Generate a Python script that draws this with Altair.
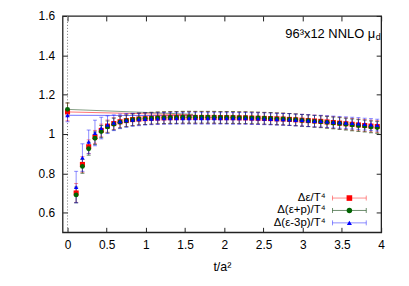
import altair as alt
import pandas as pd

# ---------------- data ----------------
t_vals = [0.11, 0.19, 0.27, 0.35, 0.43, 0.51, 0.59, 0.67, 0.75, 0.83, 0.91, 0.99,
          1.07, 1.15, 1.23, 1.31, 1.39, 1.47, 1.55, 1.63, 1.71, 1.79, 1.87, 1.95,
          2.03, 2.11, 2.19, 2.27, 2.35, 2.43, 2.51, 2.59, 2.67, 2.75, 2.83, 2.91,
          2.99, 3.07, 3.15, 3.23, 3.31, 3.39, 3.47, 3.55, 3.63, 3.71, 3.79, 3.87, 3.95]

red_vals = [0.700, 0.845, 0.935, 0.985, 1.018, 1.040, 1.053, 1.062, 1.068, 1.073, 1.076, 1.078,
            1.080, 1.081, 1.082, 1.083, 1.083, 1.084, 1.084, 1.084, 1.084, 1.084, 1.084, 1.083,
            1.083, 1.083, 1.082, 1.082, 1.081, 1.080, 1.079, 1.078, 1.077, 1.076, 1.074, 1.072,
            1.070, 1.068, 1.066, 1.064, 1.061, 1.058, 1.055, 1.052, 1.049, 1.046, 1.043, 1.040, 1.038]
red_errs = [0.048, 0.040, 0.035, 0.033, 0.032, 0.031, 0.030, 0.030, 0.030, 0.030, 0.030, 0.030,
            0.030, 0.030, 0.030, 0.030, 0.030, 0.030, 0.030, 0.030, 0.030, 0.030, 0.030, 0.030,
            0.030, 0.030, 0.030, 0.030, 0.030, 0.030, 0.030, 0.030, 0.030, 0.030, 0.030, 0.030,
            0.030, 0.030, 0.030, 0.030, 0.030, 0.030, 0.030, 0.030, 0.030, 0.030, 0.030, 0.030, 0.030]

green_vals = [0.690, 0.835, 0.925, 0.978, 1.012, 1.036, 1.050, 1.060, 1.067, 1.072, 1.076, 1.078,
              1.080, 1.082, 1.083, 1.084, 1.084, 1.085, 1.085, 1.085, 1.085, 1.085, 1.085, 1.084,
              1.084, 1.084, 1.083, 1.083, 1.082, 1.081, 1.080, 1.079, 1.077, 1.076, 1.074, 1.072,
              1.069, 1.067, 1.064, 1.062, 1.059, 1.056, 1.053, 1.050, 1.046, 1.043, 1.040, 1.036, 1.033]
green_errs = [0.040, 0.035, 0.033, 0.032, 0.031, 0.030, 0.030, 0.030, 0.030, 0.030, 0.030, 0.030,
              0.030, 0.030, 0.030, 0.030, 0.030, 0.030, 0.030, 0.030, 0.030, 0.030, 0.030, 0.030,
              0.030, 0.030, 0.030, 0.030, 0.030, 0.030, 0.030, 0.030, 0.030, 0.030, 0.030, 0.030,
              0.030, 0.030, 0.030, 0.030, 0.030, 0.030, 0.030, 0.030, 0.030, 0.030, 0.030, 0.030, 0.030]

blue_vals = [0.730, 0.880, 0.960, 1.005, 1.030, 1.047, 1.057, 1.064, 1.069, 1.072, 1.074, 1.076,
             1.077, 1.078, 1.079, 1.079, 1.080, 1.080, 1.080, 1.080, 1.080, 1.080, 1.080, 1.080,
             1.080, 1.079, 1.079, 1.079, 1.078, 1.078, 1.077, 1.076, 1.075, 1.074, 1.073, 1.071,
             1.070, 1.068, 1.066, 1.065, 1.063, 1.061, 1.059, 1.057, 1.055, 1.053, 1.050, 1.048, 1.045]
blue_errs = [0.080, 0.070, 0.060, 0.065, 0.055, 0.045, 0.040, 0.037, 0.035, 0.033, 0.032, 0.031,
             0.030, 0.030, 0.030, 0.030, 0.030, 0.030, 0.030, 0.030, 0.030, 0.030, 0.030, 0.030,
             0.030, 0.030, 0.030, 0.030, 0.030, 0.030, 0.030, 0.030, 0.030, 0.030, 0.030, 0.030,
             0.030, 0.030, 0.030, 0.030, 0.030, 0.030, 0.030, 0.030, 0.030, 0.030, 0.030, 0.030, 0.030]

# extrapolated t=0 values
t_zero = [0.0]
red_zero, red_zero_err = [1.112], [0.045]
green_zero, green_zero_err = [1.125], [0.033]
blue_zero, blue_zero_err = [1.095], [0.033]

# fit lines (from t=0 until they merge with the data)
fit_t = [0.0, 1.6]
red_fit = [1.112, 1.097]
green_fit = [1.125, 1.100]
blue_fit = [1.095, 1.093]

labels = ["Δε/T⁴", "Δ(ε+p)/T⁴", "Δ(ε-3p)/T⁴"]
x_ticks = [0, 0.5, 1, 1.5, 2, 2.5, 3, 3.5, 4]
y_ticks = [0.6, 0.8, 1.0, 1.2, 1.4, 1.6]

# ---------------- styling ----------------
W, H = 321, 218
FONT = "Liberation Sans"
xs = alt.Scale(domain=[-0.063, 4.0], nice=False, zero=False)
ys = alt.Scale(domain=[0.5, 1.6], nice=False, zero=False)

series = [
    dict(name=labels[0], t=t_zero + t_vals, v=red_zero + red_vals, e=red_zero_err + red_errs,
         fit=red_fit, color="#ff0000", bar="#ff0000", bar_op=0.45, shape="square", size=26),
    dict(name=labels[1], t=t_zero + t_vals, v=green_zero + green_vals, e=green_zero_err + green_errs,
         fit=green_fit, color="#006400", bar="#1e4f1e", bar_op=0.65, shape="circle", size=24),
    dict(name=labels[2], t=t_zero + t_vals, v=blue_zero + blue_vals, e=blue_zero_err + blue_errs,
         fit=blue_fit, color="#0000ff", bar="#0000ff", bar_op=0.45, shape="triangle-up", size=20),
]


def X(field):
    return alt.X(field, type="quantitative", scale=xs, axis=None)


def Y(field):
    return alt.Y(field, type="quantitative", scale=ys, axis=None)


layers = []

# dotted vertical line at t=0
zero_df = pd.DataFrame({"t": [0.0]})
layers.append(alt.Chart(zero_df).mark_rule(color="#777777", strokeDash=[1, 2], strokeWidth=1)
              .encode(x=X("t")))

# fit lines
for s in series:
    fdf = pd.DataFrame({"t": fit_t, "v": s["fit"]})
    layers.append(alt.Chart(fdf).mark_line(color=s["bar"], opacity=0.55, strokeWidth=1)
                  .encode(x=X("t"), y=Y("v")))

# error bars
for s in series:
    df = pd.DataFrame({"t": s["t"], "v": s["v"], "e": s["e"]})
    df["lo"] = df["v"] - df["e"]
    df["hi"] = df["v"] + df["e"]
    base = alt.Chart(df)
    layers.append(base.mark_rule(color=s["bar"], opacity=s["bar_op"], strokeWidth=1)
                  .encode(x=X("t"), y=Y("lo"), y2="hi"))
    layers.append(base.mark_tick(color=s["bar"], opacity=s["bar_op"], orient="horizontal",
                                 size=4, thickness=1)
                  .encode(x=X("t"), y=Y("lo")))
    layers.append(base.mark_tick(color=s["bar"], opacity=s["bar_op"], orient="horizontal",
                                 size=4, thickness=1)
                  .encode(x=X("t"), y=Y("hi")))

# points
for s in series:
    df = pd.DataFrame({"t": s["t"], "v": s["v"]})
    layers.append(alt.Chart(df).mark_point(filled=True, opacity=1, shape=s["shape"],
                                           size=s["size"], color=s["color"], strokeWidth=0)
                  .encode(x=X("t"), y=Y("v")))

# axes: bottom / left with labels
ax_df = pd.DataFrame({"t": [0.0, 4.0], "v": [0.5, 1.6]})
layers.append(alt.Chart(ax_df).mark_point(opacity=0).encode(
    x=alt.X("t", type="quantitative", scale=xs,
            axis=alt.Axis(orient="bottom", values=x_ticks, format="~g", domain=False,
                          offset=-5, tickSize=5, tickColor="#222222", labelPadding=7,
                          labelFont=FONT, labelFontSize=12, labelColor="#000000",
                          title="t/a²", titleFont=FONT, titleFontSize=12.5,
                          titleFontWeight="normal", titleColor="#000000", titlePadding=10,
                          grid=False, labelFlush=False)),
    y=alt.Y("v", type="quantitative", scale=ys,
            axis=alt.Axis(orient="left", values=y_ticks, format="~g", domain=False,
                          offset=-5, tickSize=5, tickColor="#222222", labelPadding=8,
                          labelFont=FONT, labelFontSize=12, labelColor="#000000",
                          title=None, grid=False, labelFlush=False)),
))
# axes: top / right, ticks only
layers.append(alt.Chart(ax_df).mark_point(opacity=0).encode(
    x=alt.X("t", type="quantitative", scale=xs,
            axis=alt.Axis(orient="top", values=x_ticks, labels=False, domain=False,
                          offset=-5, tickSize=5, tickColor="#222222", title=None, grid=False)),
    y=alt.Y("v", type="quantitative", scale=ys,
            axis=alt.Axis(orient="right", values=y_ticks, labels=False, domain=False,
                          offset=-5, tickSize=5, tickColor="#222222", title=None, grid=False)),
))

# annotation text
one = pd.DataFrame({"a": [0]})
layers.append(alt.Chart(one).mark_text(text="96³x12 NNLO μ", align="right", baseline="middle",
                                       font=FONT, fontSize=13, color="#000000")
              .encode(x=alt.value(315), y=alt.value(18)))
layers.append(alt.Chart(one).mark_text(text="d", align="left", baseline="middle",
                                       font=FONT, fontSize=9, color="#000000")
              .encode(x=alt.value(315.5), y=alt.value(21)))

# manual legend
leg_y = [183.5, 196, 208.5]
for s, yy in zip(series, leg_y):
    layers.append(alt.Chart(one).mark_text(text=s["name"], align="right", baseline="middle",
                                           font=FONT, fontSize=11.5, color="#000000")
                  .encode(x=alt.value(265), y=alt.value(yy)))
    layers.append(alt.Chart(one).mark_rule(color=s["bar"], opacity=s["bar_op"], strokeWidth=1)
                  .encode(x=alt.value(272), x2=alt.value(306), y=alt.value(yy)))
    for xx in (272, 306):
        layers.append(alt.Chart(one).mark_rule(color=s["bar"], opacity=s["bar_op"], strokeWidth=1)
                      .encode(x=alt.value(xx), y=alt.value(yy - 2.5), y2=alt.value(yy + 2.5)))
    layers.append(alt.Chart(one).mark_point(filled=True, opacity=1, shape=s["shape"],
                                            size=s["size"] + 6, color=s["color"], strokeWidth=0)
                  .encode(x=alt.value(289), y=alt.value(yy)))

chart = alt.layer(*layers).resolve_axis(x="independent", y="independent").properties(
    width=W, height=H,
    autosize=alt.AutoSizeParams(type="none"),
    padding={"left": 55, "top": 7, "right": 20, "bottom": 40},
    background="#ffffff",
).configure_view(stroke="#222222", strokeWidth=1.3)

chart.save("out.html", embed_options={"renderer": "svg", "actions": False})
